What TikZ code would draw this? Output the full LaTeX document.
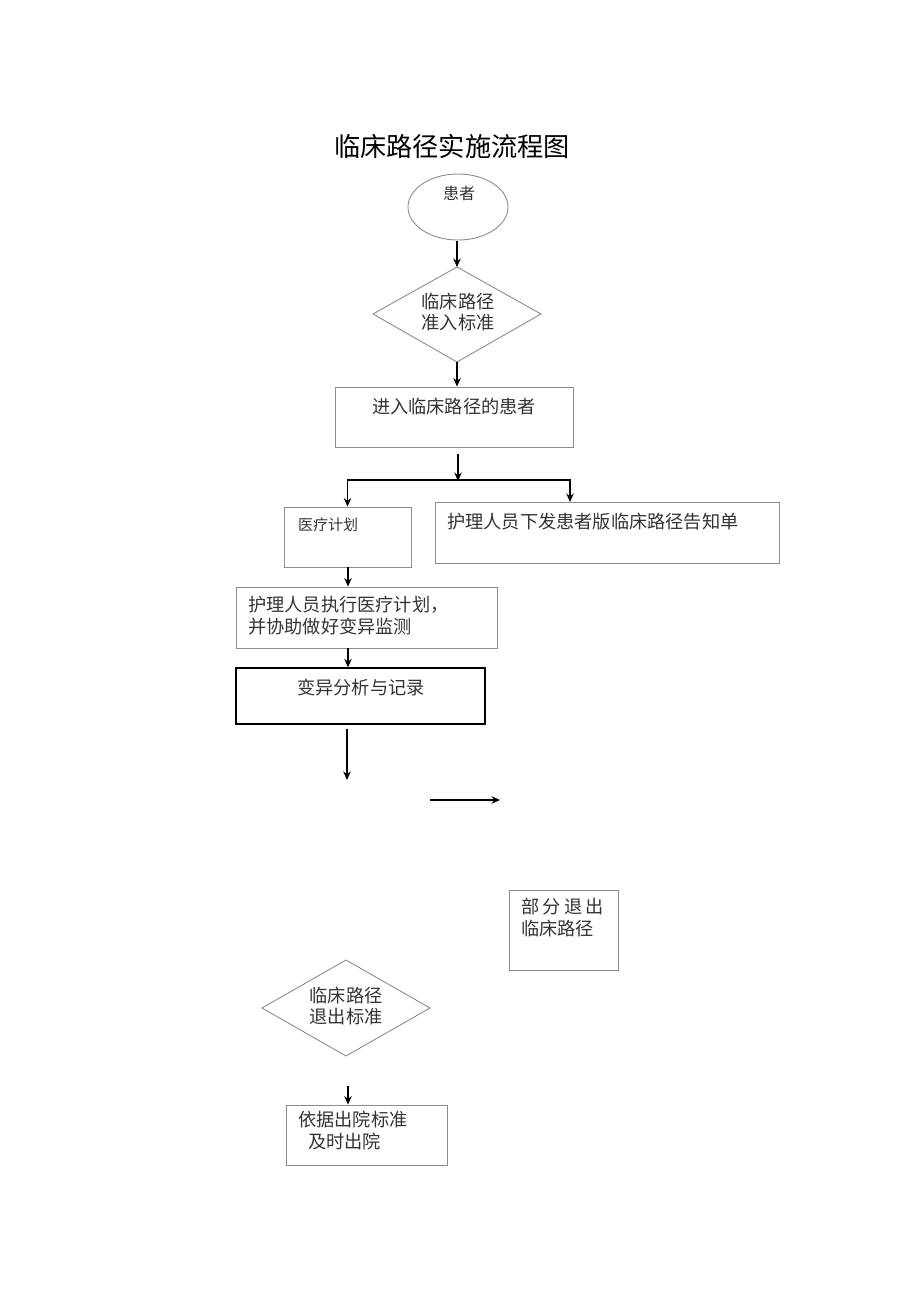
\documentclass[tikz,border=0pt]{standalone}
\usepackage{fontspec}
\setmainfont{Noto Sans CJK SC}
\usetikzlibrary{shapes.geometric,arrows.meta}
\begin{document}
\begin{tikzpicture}[x=1pt,y=-1pt,
  gbox/.style={draw=black!45,line width=0.9pt,inner sep=0pt},
  bbox/.style={draw=black,line width=1.4pt,inner sep=0pt},
  txt/.style={text=black!80,font=\fontsize{18.2}{21.5}\selectfont,inner sep=0pt,align=left},
  arr/.style={draw=black,line width=1.2pt,-{Stealth[length=8.5pt,width=7.5pt]}}]
\useasboundingbox (0,0) rectangle (920,1301);
% title
\node[font=\fontsize{26.2}{30}\selectfont,inner sep=0pt] (title) at (452,146) {临床路径实施流程图};
% ellipse
\node[gbox,ellipse,minimum width=100pt,minimum height=66pt] (pat) at (458,207) {};
\node[txt] (patt) at (459,193) {\fontsize{16}{20}\selectfont 患者};
% diamond 1
\draw[gbox] (457,267) coordinate (d1n) -- (541,314) -- (457,362) coordinate (d1s) -- (373,314) -- cycle;
\node[txt,align=center] (d1t) at (458,312) {临床路径\\准入标准};
% enter box
\node[gbox,minimum width=238pt,minimum height=60pt] (enter) at (454,417) {};
\node[txt] (entert) at (454,407) {进入临床路径的患者};
% medical plan box
\node[gbox,minimum width=127pt,minimum height=60pt] (plan) at (347.5,537) {};
\node[txt,anchor=west] (plant) at (298,525) {\fontsize{15}{19}\selectfont 医疗计划};
% notice box
\node[gbox,minimum width=344pt,minimum height=61pt] (note) at (607,532.5) {};
\node[txt,anchor=west] (notet) at (447,522) {护理人员下发患者版临床路径告知单};
% execute box
\node[gbox,minimum width=261pt,minimum height=61pt] (exec) at (366.5,617.5) {};
\node[txt,anchor=north west] (exect) at (248,596) {护理人员执行医疗计划，\\并协助做好变异监测};
% variation box
\node[bbox,minimum width=249pt,minimum height=56pt] (var) at (360.5,696) {};
\node[txt] (vart) at (361,688) {变异分析与记录};
% partial exit box
\node[gbox,minimum width=109pt,minimum height=80pt] (part) at (563.5,930) {};
\node[txt,anchor=north west] (partt) at (521,898) {部\hspace{3.3pt}分\hspace{3.3pt}退\hspace{3.3pt}出\\临床路径};
% diamond 2
\draw[gbox] (346,960) coordinate (d2n) -- (430,1008) -- (346,1056) coordinate (d2s) -- (262,1008) -- cycle;
\node[txt,align=center] (d2t) at (346,1006) {临床路径\\退出标准};
% discharge box
\node[gbox,minimum width=161pt,minimum height=60pt] (dis) at (366.5,1135) {};
\node[txt,anchor=north west] (dist) at (298,1111) {依据出院标准\\\hspace*{10pt}及时出院};
% connectors
\draw[arr] ([yshift=-1pt]pat.south -| d1n) -- (d1n);
\draw[arr] (d1s) -- (d1s |- enter.north);
\coordinate (split) at (458,480);
\draw[arr,shorten <=7pt] (enter.south -| split) -- ([yshift=-1pt]split);
\coordinate (rt) at (570,502);
\draw[arr] (split) -| (plan.north);
\draw[arr] (split) -| (rt);
\coordinate (c1) at (348,0);
\draw[arr] (plan.south -| c1) -- (exec.north -| c1);
\draw[arr] (exec.south -| c1) -- (var.north -| c1);
\coordinate (v1) at (347,780);
\draw[arr,shorten <=4pt] (var.south -| v1) -- (v1);
\coordinate (h1) at (430,800);
\coordinate (h2) at (500,800);
\draw[arr] (h1) -- (h2);
\coordinate (d0) at (348,1086);
\draw[arr] (d0) -- (d0 |- dis.north);
\end{tikzpicture}
\end{document}
